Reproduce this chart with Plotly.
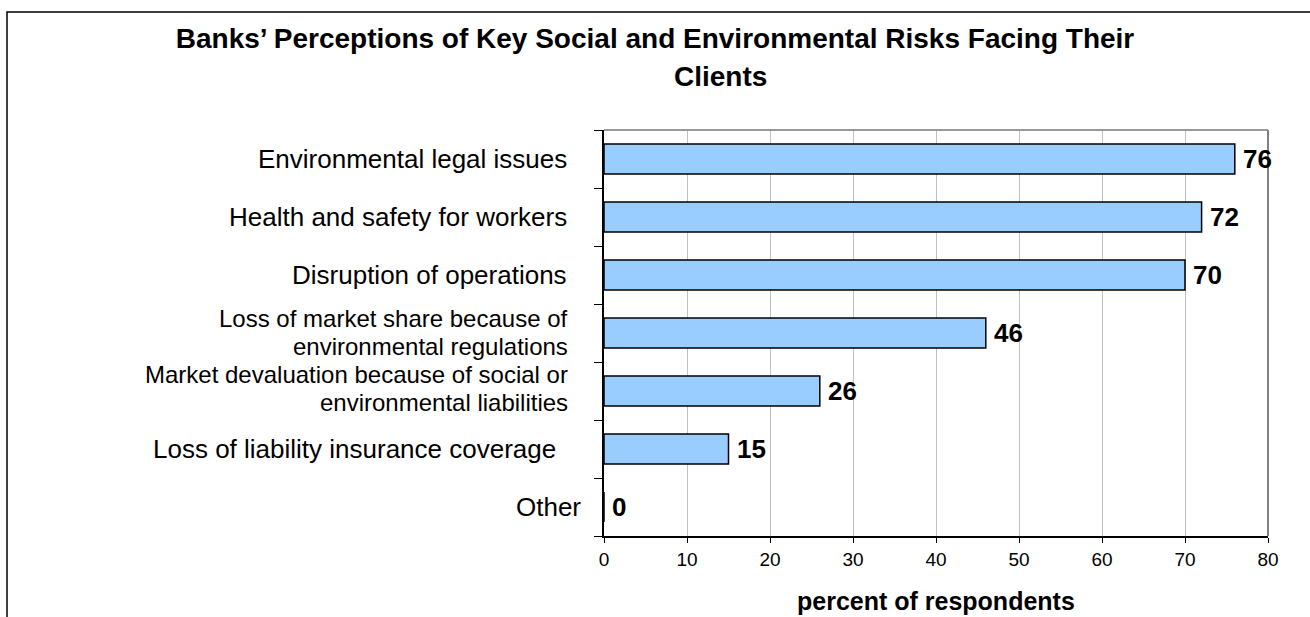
import plotly.graph_objects as go

# Survey results: share of banks naming each risk
categories = [
    "Environmental legal issues",
    "Health and safety for workers",
    "Disruption of operations",
    "Loss of market share because of<br>environmental regulations",
    "Market devaluation because of social or<br>environmental liabilities",
    "Loss of liability insurance coverage",
    "Other",
]
values = [76, 72, 70, 46, 26, 15, 0]
x_ticks = [0, 10, 20, 30, 40, 50, 60, 70, 80]

FONT = "Liberation Sans, Arial, sans-serif"
LABEL_SIZE = 26        # single-line category labels
WRAP_SIZE = 24         # wrapped category labels
LINE_GAP = 28          # px between wrapped label lines

fig = go.Figure()
fig.add_trace(go.Bar(
    x=values,
    y=categories,
    orientation="h",
    marker=dict(color="#99CCFF", line=dict(color="#000000", width=1.5)),
    width=0.52,
    hoverinfo="x+y",
))

annotations = []

# category labels, right-aligned left of the axis
label_shift = [-35, -35, -35, -34, -34, -46, -21]
label_lift = [0, 0, 0, 1, 3, 0, 0]
for cat, dx, lift in zip(categories, label_shift, label_lift):
    lines = cat.split("<br>")
    n = len(lines)
    size = LABEL_SIZE if n == 1 else WRAP_SIZE
    for i, line in enumerate(lines):
        dy = (n - 1) / 2 * LINE_GAP - i * LINE_GAP + lift
        annotations.append(dict(
            x=0, xref="paper", y=cat, yref="y",
            text=line, showarrow=False, xanchor="right", yanchor="middle",
            xshift=dx, yshift=dy,
            font=dict(family=FONT, size=size, color="#000000"),
        ))

# value labels at the end of each bar
for cat, v in zip(categories, values):
    annotations.append(dict(
        x=v, xref="x", y=cat, yref="y",
        text=f"<b>{v}</b>", showarrow=False, xanchor="left", yanchor="middle",
        xshift=6,
        font=dict(family=FONT, size=26, color="#000000"),
    ))

# second title line
annotations.append(dict(
    x=(720 - 604) / 664, xref="paper", y=(536 - 76) / 406, yref="paper",
    text="<b>Clients</b>", showarrow=False, xanchor="center", yanchor="middle",
    font=dict(family=FONT, size=28, color="#000000"),
))

# x-axis title
annotations.append(dict(
    x=0.5, xref="paper", y=(536 - 601) / 406, yref="paper",
    text="<b>percent of respondents</b>", showarrow=False,
    xanchor="center", yanchor="middle",
    font=dict(family=FONT, size=25, color="#000000"),
))

shapes = [
    # outer chart frame
    dict(type="rect", xref="paper", yref="paper",
         x0=(7 - 604) / 664, x1=(1330 - 604) / 664,
         y0=(536 - 640) / 406, y1=(536 - 12) / 406,
         line=dict(color="#000000", width=1.5), layer="below"),
    # plot area border (top and right)
    dict(type="line", xref="paper", yref="paper", x0=0, x1=1, y0=1, y1=1,
         line=dict(color="#999999", width=2)),
    dict(type="line", xref="paper", yref="paper", x0=1, x1=1, y0=0, y1=1,
         line=dict(color="#808080", width=2)),
]

fig.update_layout(
    width=1310, height=617,
    margin=dict(l=604, r=42, t=130, b=81),
    paper_bgcolor="#FFFFFF", plot_bgcolor="#FFFFFF",
    showlegend=False,
    title=dict(
        text="Banks\u2019 Perceptions of Key Social and Environmental Risks Facing Their",
        x=655 / 1310, xanchor="center", y=1 - 38 / 617, yanchor="middle",
        font=dict(family=FONT, size=28, color="#000000", weight="bold"),
    ),
    xaxis=dict(
        range=[0, 80], tickvals=x_ticks, ticktext=[str(t) for t in x_ticks],
        showgrid=True, gridcolor="#C0C0C0", gridwidth=1,
        showline=True, linecolor="#000000", linewidth=1.5,
        ticks="outside", ticklen=5, tickcolor="#000000",
        tickfont=dict(family=FONT, size=19, color="#000000"),
        zeroline=False,
    ),
    yaxis=dict(
        categoryorder="array", categoryarray=categories[::-1],
        showticklabels=False,
        showline=True, linecolor="#000000", linewidth=1.5,
        ticks="outside", ticklen=8, tickcolor="#000000", tickson="boundaries",
        showgrid=False, zeroline=False,
    ),
    annotations=annotations,
    shapes=shapes,
)

fig.write_html("out.html")
